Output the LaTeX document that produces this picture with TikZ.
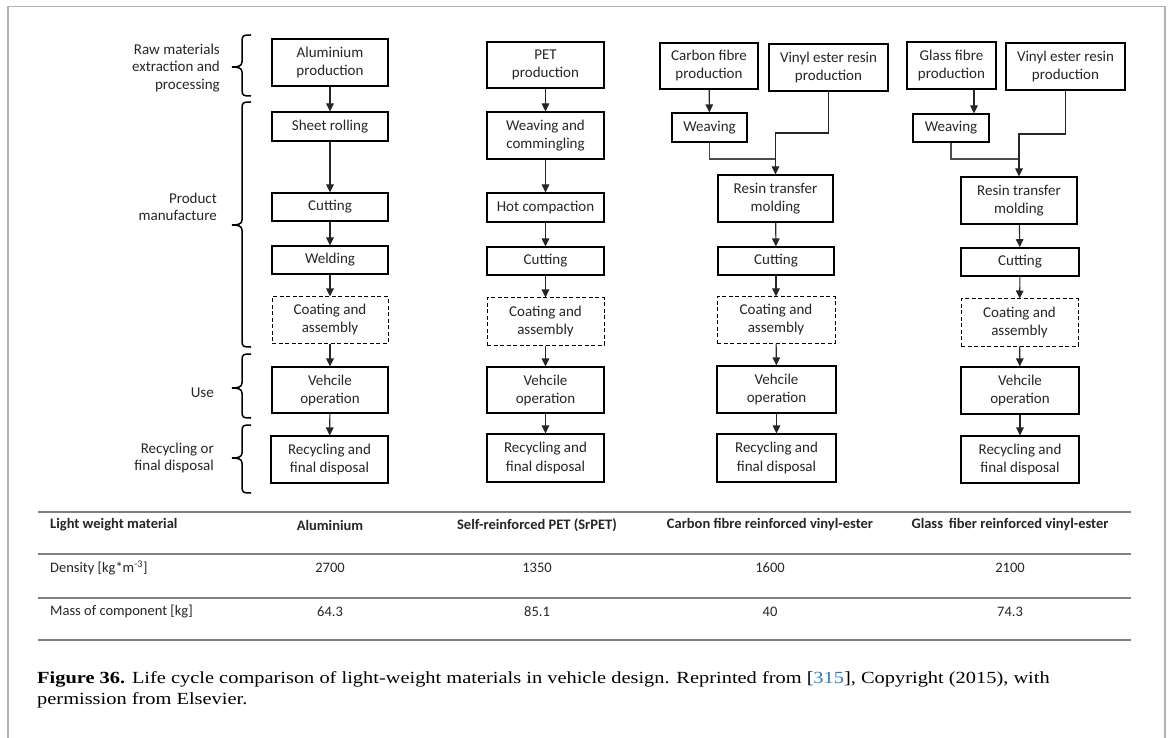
\documentclass[tikz,border=0pt]{standalone}
\usepackage{fontspec}
\setmainfont{Carlito}
\newfontfamily\capfont[FakeStretch=1.2]{Liberation Serif}
\usetikzlibrary{arrows.meta}
\definecolor{linkblue}{HTML}{2E7DC0}
\newcommand{\mybox}[7][box]{\node[#1, minimum width={(#4-#3)*1pt}, minimum height={(#6-#5)*1pt}] (#2) at ({(#3+#4)/2},{(#5+#6)/2}) {#7};}
\newcommand{\mybrace}[3]{\draw[brc] (251,#1) .. controls (244,#1) and (242,#1) .. (242,{#1+6}) -- (242,{#2-5}) .. controls (242,{#2-1}) and (238,#2) .. (232,#2) .. controls (238,#2) and (242,{#2+1}) .. (242,{#2+5}) -- (242,{#3-6}) .. controls (242,#3) and (244,#3) .. (251,#3);}
\begin{document}
\begin{tikzpicture}[x=1pt,y=-1pt,
  box/.style={draw=black, line width=1.1pt, inner sep=0pt, align=center, font=\fontsize{15}{18}\selectfont, text=black!85},
  tbox/.style={box, line width=1.6pt},
  dbox/.style={box, line width=1pt, dash pattern=on 4pt off 2.5pt},
  arr/.style={draw=black!85, line width=1.1pt, -{Triangle[width=7.5pt,length=8pt]}},
  conn/.style={draw=black!70, line width=1.1pt},
  lab/.style={align=right, anchor=east, inner sep=0pt, font=\fontsize{15}{17.5}\selectfont, text=black!85},
  brc/.style={draw=black, line width=1.5pt},
  tline/.style={draw=black!50, line width=1.8pt},
  th/.style={inner sep=0pt, font=\fontsize{14.5}{17}\selectfont\bfseries, text=black!85},
  td/.style={inner sep=0pt, font=\fontsize{14.5}{17}\selectfont, text=black!85},
]
\useasboundingbox (0,0) rectangle (1168,738);
\fill[white] (0,0) rectangle (1168,738);
% frame
\draw[draw=black!30, line width=1.5pt] (8,745) -- (8,6.5) -- (1165,6.5) -- (1165,745);

% stage labels and braces
\node[lab] (l1) at (220,68) {Raw materials\\extraction and\\processing};
\node[lab] (l2) at (217,207) {Product\\manufacture};
\node[lab] (l3) at (214,393) {Use};
\node[lab] (l4) at (214,458) {Recycling or\\final disposal};
\mybrace{35}{67}{96}
\mybrace{102}{225}{347}
\mybrace{354}{388}{418}
\mybrace{425}{458}{493}

% column 1: aluminium
\mybox[tbox]{al}{272}{388}{39}{86}{Aluminium\\production}
\mybox{sr}{272}{388}{112}{141}{Sheet rolling}
\mybox{cuta}{272}{388}{193}{221}{Cutting}
\mybox{weld}{272}{388}{246}{274}{Welding}
\mybox[dbox]{coata}{272}{388}{297}{343}{Coating and\\assembly}
\mybox{veha}{272}{388}{367}{413}{Vehcile\\operation}
\mybox{reca}{271}{388}{436}{483}{Recycling and\\final disposal}
\draw[arr] (al) -- (sr);
\draw[arr] (sr) -- (cuta);
\draw[arr] (cuta) -- (weld);
\draw[arr] (weld) -- (coata);
\draw[arr] (coata) -- (veha);
\draw[arr] (veha) -- (reca);

% column 2: PET
\mybox[tbox]{pet}{487}{604}{42}{88}{PET\\production}
\mybox{wc}{487}{604}{112}{159}{Weaving and\\commingling}
\mybox{hc}{487}{604}{193}{222}{Hot compaction}
\mybox{cutb}{487}{604}{247}{275}{Cutting}
\mybox[dbox]{coatb}{487}{604}{298}{345}{Coating and\\assembly}
\mybox{vehb}{487}{604}{367}{413}{Vehcile\\operation}
\mybox{recb}{487}{604}{434}{482}{Recycling and\\final disposal}
\draw[arr] (pet) -- (wc);
\draw[arr] (wc) -- (hc);
\draw[arr] (hc) -- (cutb);
\draw[arr] (cutb) -- (coatb);
\draw[arr] (coatb) -- (vehb);
\draw[arr] (vehb) -- (recb);

% column 3: carbon fibre
\mybox{cf}{660}{758}{43}{89}{Carbon fibre\\production}
\mybox{vea}{769}{888}{44}{91}{Vinyl ester resin\\production}
\mybox{wva}{672}{747}{113}{142}{Weaving}
\mybox{rtma}{718}{833}{175}{222}{Resin transfer\\molding}
\mybox{cutc}{718}{834}{247}{275}{Cutting}
\mybox[dbox]{coatc}{717}{835}{297}{343}{Coating and\\assembly}
\mybox{vehc}{717}{836}{366}{413}{Vehcile\\operation}
\mybox{recc}{717}{836}{434}{482}{Recycling and\\final disposal}
\coordinate (ja) at (775.5,159);
\coordinate (ka) at (775.5,133);
\draw[arr] (cf) -- (wva);
\draw[conn] (wva.south) -- (wva.south |- ja) -- (ja);
\draw[arr] (vea.south) -- (vea.south |- ka) -- (ka) -- (rtma.north);
\draw[arr] (rtma) -- (cutc);
\draw[arr] (cutc) -- (coatc);
\draw[arr] (coatc) -- (vehc);
\draw[arr] (vehc) -- (recc);

% column 4: glass fibre
\mybox{gf}{907}{996}{42}{89}{Glass fibre\\production}
\mybox{veb}{1006}{1125}{43}{90}{Vinyl ester resin\\production}
\mybox{wvb}{913}{989}{114}{142}{Weaving}
\mybox{rtmb}{961}{1077}{177}{224}{Resin transfer\\molding}
\mybox[tbox]{cutd}{961}{1079}{248}{276}{Cutting}
\mybox[dbox]{coatd}{961}{1078}{299}{346}{Coating and\\assembly}
\mybox{vehd}{961}{1079}{367}{414}{Vehcile\\operation}
\mybox{recd}{961}{1079}{436}{483}{Recycling and\\final disposal}
\coordinate (gx) at (974,0);
\coordinate (jb) at (1019,159);
\coordinate (kb) at (1019,134);
\draw[arr] (gf.south -| gx) -- (wvb.north -| gx);
\draw[conn] (wvb.south) -- (wvb.south |- jb) -- (jb);
\draw[arr] (veb.south) -- (veb.south |- kb) -- (kb) -- (rtmb.north);
\draw[arr] (rtmb) -- (cutd);
\draw[arr] (cutd) -- (coatd);
\draw[arr] (coatd) -- (vehd);
\draw[arr] (vehd) -- (recd);

% table
\draw[tline] (38,512) -- (1131,512);
\draw[tline] (38,554) -- (1131,554);
\draw[tline] (38,598) -- (1131,598);
\draw[tline] (38,640) -- (1131,640);
\node[th, anchor=west] (h0) at (50,525) {Light weight material};
\node[th] (h1) at (330,525) {Aluminium};
\node[th] (h2) at (537,525) {Self-reinforced PET (SrPET)};
\node[th] (h3) at (770,525) {Carbon fibre reinforced vinyl-ester};
\node[th] (h4) at (1010,525) {Glass\hspace{2.5pt} fiber reinforced vinyl-ester};
\node[td, anchor=west] (d0) at (50,568) {Density [kg*m\textsuperscript{-3}]};
\node[td] (d1) at (330,568) {2700};
\node[td] (d2) at (537,568) {1350};
\node[td] (d3) at (770,568) {1600};
\node[td] (d4) at (1010,568) {2100};
\node[td, anchor=west] (m0) at (50,612) {Mass of component [kg]};
\node[td] (m1) at (330,612) {64.3};
\node[td] (m2) at (537,612) {85.1};
\node[td] (m3) at (770,612) {40};
\node[td] (m4) at (1010,612) {74.3};

% caption
\node[anchor=base west, inner sep=0pt, font=\capfont\fontsize{17}{20}\selectfont] (cap1) at (37,683) {\textbf{Figure 36.} Life cycle comparison of light-weight materials in vehicle design. Reprinted from [\textcolor{linkblue}{315}], Copyright (2015), with};
\node[anchor=base west, inner sep=0pt, font=\capfont\fontsize{17}{20}\selectfont] (cap2) at (37,704) {permission from Elsevier.};
\end{tikzpicture}
\end{document}
